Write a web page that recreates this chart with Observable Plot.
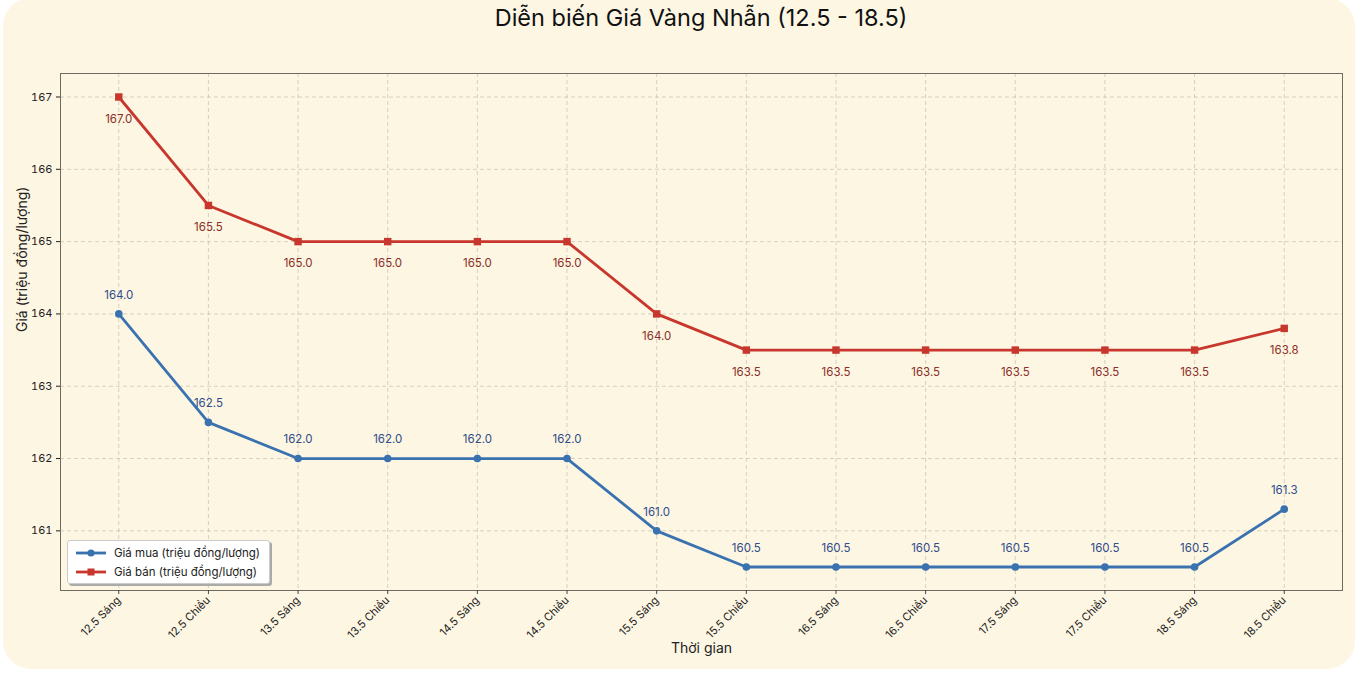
<!DOCTYPE html>
<html>
<head>
<meta charset="utf-8">
<script src="https://cdn.jsdelivr.net/npm/d3@7"></script>
<script src="https://cdn.jsdelivr.net/npm/@observablehq/plot@0.6"></script>
<style>
  html, body { margin: 0; padding: 0; background: #ffffff; }
  #wrap { position: relative; width: 1358px; height: 674px; overflow: hidden; font-family: Inter, "Open Sans", sans-serif; }
  #panel { position: absolute; left: 3px; top: -2px; width: 1352px; height: 671px; background: #fdf6e3; border-radius: 28px; }
  #title { position: absolute; left: 0; width: 1402px; top: 3px; text-align: center; font-size: 23.5px; color: #111; }
  #chart { position: absolute; left: 0; top: 0; }
  #legend { position: absolute; left: 67px; top: 540px; width: 201px; height: 42px; background: #fff; border: 1px solid #ccc; border-radius: 3px; box-shadow: 2px 2px 0 #aaa; font-size: 11.5px; color: #222; }
  .row { position: absolute; left: 8px; height: 18px; display: flex; align-items: center; }
  .row svg { margin-right: 8px; }
</style>
</head>
<body>
<div id="wrap">
  <div id="panel"></div>
  <div id="chart"></div>
  <div id="title">Diễn biến Giá Vàng Nhẫn (12.5 - 18.5)</div>
  <div id="legend"></div>
</div>
<script>
const labels = ["12.5 Sáng","12.5 Chiều","13.5 Sáng","13.5 Chiều","14.5 Sáng","14.5 Chiều","15.5 Sáng","15.5 Chiều","16.5 Sáng","16.5 Chiều","17.5 Sáng","17.5 Chiều","18.5 Sáng","18.5 Chiều"];
const buy = [164.0,162.5,162.0,162.0,162.0,162.0,161.0,160.5,160.5,160.5,160.5,160.5,160.5,161.3];
const sell = [167.0,165.5,165.0,165.0,165.0,165.0,164.0,163.5,163.5,163.5,163.5,163.5,163.5,163.8];
const yTicks = [161,162,163,164,165,166,167];
const seriesNames = ["Giá mua (triệu đồng/lượng)", "Giá bán (triệu đồng/lượng)"];
const xLabel = "Thời gian";
const yLabel = "Giá (triệu đồng/lượng)";

const blue = "#3a72b0", red = "#c8372d";
const buyData = labels.map((t, i) => ({t, v: buy[i]}));
const sellData = labels.map((t, i) => ({t, v: sell[i]}));

const chart = Plot.plot({
  width: 1358,
  height: 674,
  marginLeft: 60,
  marginRight: 16,
  marginTop: 73,
  marginBottom: 84,
  style: {background: "transparent", fontFamily: "Inter, 'Open Sans', sans-serif", fontSize: "11px", color: "#222"},
  x: {type: "point", domain: labels, padding: 0.65, round: false},
  y: {domain: [160.175, 167.325]},
  marks: [
    Plot.gridX(labels, {stroke: "#b8b4a4", strokeOpacity: 0.8, strokeDasharray: "4,3", strokeWidth: 0.7}),
    Plot.gridY(yTicks, {stroke: "#b8b4a4", strokeOpacity: 0.8, strokeDasharray: "4,3", strokeWidth: 0.7}),
    Plot.frame({stroke: "#6e6a60", strokeWidth: 1}),
    Plot.axisX({ticks: labels, tickRotate: -45, tickSize: 4, tickPadding: 4, fontSize: 11, stroke: "#444", label: null}),
    Plot.axisY({ticks: yTicks, tickSize: 4, tickPadding: 4, fontSize: 11, tickFormat: d => String(d), label: null}),
    Plot.text([xLabel], {frameAnchor: "bottom", dy: 62, fontSize: 14, fill: "#222", text: d => d}),
    Plot.text([yLabel], {frameAnchor: "left", dx: -38, rotate: -90, fontSize: 14, fill: "#222", text: d => d}),
    Plot.line(sellData, {x: "t", y: "v", stroke: red, strokeWidth: 2.8}),
    Plot.dot(sellData, {x: "t", y: "v", symbol: "square", r: 4.2, fill: red, stroke: "none"}),
    Plot.text(sellData, {x: "t", y: "v", text: d => d.v.toFixed(1), dy: 22, fill: "#8a2e28", fontSize: 11.5}),
    Plot.line(buyData, {x: "t", y: "v", stroke: blue, strokeWidth: 2.8}),
    Plot.dot(buyData, {x: "t", y: "v", r: 3.8, fill: blue, stroke: "none"}),
    Plot.text(buyData, {x: "t", y: "v", text: d => d.v.toFixed(1), dy: -19, fill: "#2f4c8a", fontSize: 11.5})
  ]
});
document.getElementById("chart").appendChild(chart);

// legend
const leg = document.getElementById("legend");
[[seriesNames[0], blue, "circle"], [seriesNames[1], red, "square"]].forEach(([name, col, shape], i) => {
  const row = document.createElement("div");
  row.className = "row";
  row.style.top = (3 + i * 19) + "px";
  const marker = shape === "circle"
    ? `<circle cx="15" cy="6" r="3.6" fill="${col}"/>`
    : `<rect x="11.5" y="2.5" width="7" height="7" fill="${col}"/>`;
  row.innerHTML = `<svg width="30" height="12"><line x1="0" x2="30" y1="6" y2="6" stroke="${col}" stroke-width="2.8"/>${marker}</svg><span>${name}</span>`;
  leg.appendChild(row);
});
</script>
</body>
</html>
